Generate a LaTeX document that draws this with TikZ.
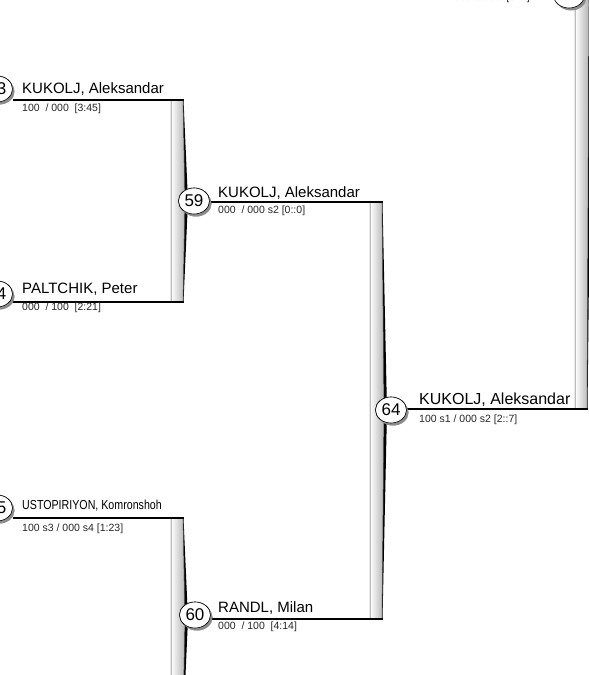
\documentclass[tikz,border=0pt]{standalone}
\usepackage{fontspec}
\setmainfont{Liberation Sans}
\usetikzlibrary{shapes.geometric,shadows}
\newcommand\bracketbar[3]{%
  \pgfmathsetmacro\barmid{(#2+#3)/2}%
  \fill[black] (#1+11.5,#2) -- (#1+12.5,#2) -- (#1+17,\barmid) -- (#1+12.5,#3) -- (#1+11.5,#3) -- (#1+13.5,\barmid) -- cycle;
  \shade[left color=white, right color=black!30, draw=black!75, line width=0.5pt]
    (#1,#2) -- (#1+12,#2) -- (#1+14,\barmid) -- (#1+12,#3) -- (#1,#3) -- cycle;
}
\begin{document}
\begin{tikzpicture}[x=1pt,y=-1pt,
  pname/.style={anchor=base west, inner sep=0pt, font=\fontsize{15}{15}\selectfont},
  bigname/.style={anchor=base west, inner sep=0pt, font=\fontsize{16}{16}\selectfont},
  score/.style={anchor=base west, inner sep=0pt, font=\fontsize{10.5}{10.5}\selectfont, text=black!85},
  wline/.style={line width=2pt, black},
  mcirc/.style={ellipse, draw=black, line width=0.6pt, fill=white,
    minimum width=31pt, minimum height=26pt, inner sep=0pt,
    font=\fontsize{17}{17}\selectfont,
    drop shadow={shadow xshift=2pt, shadow yshift=-2.5pt, fill=black!45, opacity=1}},
]
\useasboundingbox (0,0) rectangle (589,675);
\clip (0,0) rectangle (589,675);

% bars
\bracketbar{171}{100}{302}
\bracketbar{370}{202}{619}
\bracketbar{171}{518}{720}
\bracketbar{575}{-400}{409}

% end coordinates of the match lines
\coordinate (e53) at (184,100);
\coordinate (e54) at (184,302);
\coordinate (e55) at (184,518);
\coordinate (e59) at (383,202);
\coordinate (e60) at (383,619);
\coordinate (e64) at (588,409);

% circles (positions)
\node[mcirc] (c53) at (-3,89) {53};
\node[mcirc] (c54) at (-3,294) {54};
\node[mcirc] (c55) at (-3,508) {55};
\node[mcirc] (c59) at (194,201) {59};
\node[mcirc] (c60) at (195,615) {60};
\node[mcirc] (c64) at (391,410) {64};
\node[mcirc] (c63) at (569,-5) {};

% lines
\draw[wline] (c53.east |- e53) -- (e53);
\draw[wline] (c54.east |- e54) -- (e54);
\draw[wline] (c55.east |- e55) -- (e55);
\draw[wline] (c59.east |- e59) -- (e59);
\draw[wline] (c60.east |- e60) -- (e60);
\draw[wline] (c64.east |- e64) -- (e64);

% circles over the lines
\node[mcirc] at (c53) {53};
\node[mcirc] at (c54) {54};
\node[mcirc] at (c55) {55};
\node[mcirc] at (c59) {59};
\node[mcirc] at (c60) {60};
\node[mcirc] at (c64) {64};

% texts
\node[pname] (n53) at (22,93) {KUKOLJ, Aleksandar};
\node[score] (s53) at (22,111) {100~~/ 000~~[3:45]};
\node[pname] (n54) at (22,293) {PALTCHIK, Peter};
\node[score] (s54) at (22,310) {000~~/ 100~~[2:21]};
\node[anchor=base west, inner sep=0pt, font=\fontsize{13}{13}\selectfont] (n55) at (22,509) {\scalebox{0.82}[1]{USTOPIRIYON, Komronshoh}};
\node[score] (s55) at (22,531) {100 s3 / 000 s4 [1:23]};
\node[pname] (n59) at (218,197) {KUKOLJ, Aleksandar};
\node[score] (s59) at (218,213) {000~~/ 000 s2 [0::0]};
\node[pname] (n60) at (218,612) {RANDL, Milan};
\node[score] (s60) at (218,629) {000~~/ 100~~[4:14]};
\node[bigname] (n64) at (419,404) {KUKOLJ, Aleksandar};
\node[score] (s64) at (419,422) {100 s1 / 000 s2 [2::7]};
\node[score, anchor=base east] (stop) at (530,0.5) {000~~/ 000~~[0::0]};
\end{tikzpicture}
\end{document}
